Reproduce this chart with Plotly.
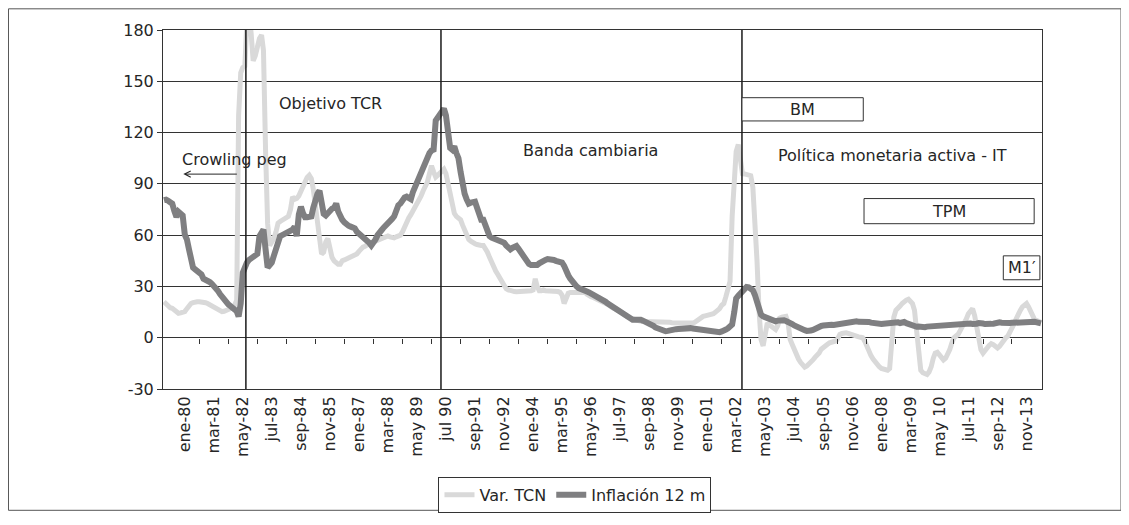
"""Var. TCN e inflación 12 m, regímenes cambiarios y monetarios."""

import pandas as pd
import plotly.graph_objects as go

# Monthly data, mar-1979 .. jun-2014
months = pd.date_range("1979-03-01", periods=424, freq="MS")

var_tcn = [
    21.0, 19.5, 18.0, 17.5, 17.2, 16.0, 15.0, 14.3, 14.5, 15.0,  # 1979 (mar-dic)
    15.3, 17.0, 19.2, 20.0, 20.5, 21.0, 21.0, 21.0, 21.0, 21.0, 20.5, 20.0,  # 1980
    19.2, 18.5, 18.0, 17.2, 16.5, 16.0, 15.3, 15.5, 16.3, 16.5, 17.0, 17.2,  # 1981
    19.0, 22.0, 130.0, 155.0, 158.0, 159.0, 185.0, 190.0, 178.0, 162.0, 165.0, 170.0,  # 1982
    175.0, 177.0, 168.0, 109.0, 66.7, 54.0, 56.0, 58.0, 62.0, 67.0, 68.0, 68.9,  # 1983
    69.5, 70.0, 71.0, 75.0, 82.4, 81.0, 81.5, 83.0, 86.2, 89.0, 92.0, 93.8,  # 1984
    95.0, 93.0, 87.0, 78.0, 68.0, 58.0, 49.0, 50.0, 56.0, 58.0, 52.0, 47.0,  # 1985
    45.0, 44.0, 43.0, 43.0, 45.0, 45.5, 46.0, 46.5, 47.0, 47.5, 48.0, 49.0,  # 1986
    50.5, 52.0, 53.0, 53.5, 54.5, 55.0, 55.5, 56.0, 56.5, 57.0, 58.0, 58.5,  # 1987
    59.0, 59.5, 59.5, 59.0, 58.5, 58.4, 59.0, 59.5, 60.0, 62.0, 65.0, 68.0,  # 1988
    70.0, 72.0, 74.0, 76.0, 78.5, 80.0, 83.0, 86.0, 89.0, 91.0, 96.0, 100.6,  # 1989
    97.0, 94.0, 95.0, 96.5, 97.5, 98.6, 96.0, 90.0, 84.0, 78.0, 72.8, 71.0,  # 1990
    70.0, 69.0, 66.0, 62.5, 59.0, 57.5, 56.5, 55.5, 55.0, 54.5, 54.0, 54.0,  # 1991
    54.0, 52.5, 50.0, 47.0, 44.0, 41.5, 39.0, 37.0, 34.5, 32.5, 30.5, 28.7,  # 1992
    28.0, 27.5, 27.0, 27.0, 26.9, 27.0, 27.2, 27.0, 26.8, 27.0, 27.0, 27.5,  # 1993
    28.0, 34.5, 30.0, 27.5, 27.5, 28.0, 27.5, 27.5, 27.2, 27.5, 27.0, 27.3,  # 1994
    27.0, 26.5, 25.0, 20.0, 24.0, 26.0, 26.5, 26.5, 27.0, 27.0, 27.2, 27.0,  # 1995
    27.0, 26.5, 25.5, 24.5, 24.0, 23.5, 23.0, 22.5, 22.0, 21.5, 21.0, 20.0,  # 1996
    19.5, 18.5, 17.5, 17.0, 16.5, 16.0, 15.3, 14.5, 13.5, 12.5, 12.0, 11.5,  # 1997
    11.0, 10.5, 10.0, 10.0, 9.6, 9.5, 9.5, 9.6, 9.5, 9.4, 9.5, 9.6,  # 1998
    9.5, 9.4, 9.5, 9.6, 9.5, 9.3, 9.0, 8.8, 8.6, 8.6, 8.7, 8.6,  # 1999
    8.6, 8.5, 8.6, 8.6, 8.7, 8.6, 9.0, 10.0, 11.0, 12.4, 12.5, 12.8,  # 2000
    13.0, 13.2, 13.4, 14.0, 15.0, 16.0, 17.0, 19.0, 20.0, 24.0, 28.0, 33.0,  # 2001
    71.0, 95.0, 109.0, 113.0, 106.0, 96.0, 95.8, 95.5, 95.0, 94.8, 88.0, 70.0,  # 2002
    45.0, 15.0, -1.0, -4.8, 3.0, 8.6, 7.5, 6.7, 5.5, 4.8, 7.0, 11.5,  # 2003
    12.0, 12.3, 12.5, 9.0, -1.0, -4.0, -7.0, -10.5, -12.5, -14.4, -16.0, -17.2,  # 2004
    -16.5, -15.5, -14.4, -13.0, -11.5, -10.5, -9.0, -6.7, -5.5, -4.5, -3.8, -3.0,  # 2005
    -2.5, -2.0, -1.9, -0.5, 1.9, 2.5, 2.8, 2.9, 2.5, 2.0, 1.5, 1.0,  # 2006
    0.8, 0.5, 0.3, 0.0, -2.0, -5.0, -8.6, -10.5, -12.5, -14.4, -15.5, -17.0,  # 2007
    -18.0, -18.5, -19.0, -19.0, -18.0, -5.0, 12.0, 16.0, 17.0, 18.5, 20.0, 21.5,  # 2008
    22.0, 22.5, 21.5, 20.0, 16.0, 2.0, -12.0, -19.0, -20.5, -21.0, -21.5, -20.0,  # 2009
    -17.0, -12.0, -9.0, -8.5, -10.0, -12.0, -13.0, -12.0, -10.0, -7.0, -3.0, 0.0,  # 2010
    1.0, 2.0, 4.0, 6.0, 8.0, 11.0, 14.0, 16.0, 17.0, 13.0, 5.0, -2.0,  # 2011
    -7.0, -9.0, -8.0, -6.0, -4.5, -3.5, -4.0, -5.0, -6.0, -5.0, -3.0, -1.0,  # 2012
    0.0, 1.0, 3.0, 5.0, 8.0, 11.0, 14.0, 16.0, 18.0, 19.5, 20.0, 18.0,  # 2013
    15.0, 12.0, 10.5, 10.0, 9.5, 9.0,  # 2014 (ene-jun)
]

inflacion_12m = [
    80.5, 80.8, 80.1, 79.2, 78.4, 74.1, 70.6, 73.6, 72.9, 71.5,  # 1979 (mar-dic)
    60.3, 57.5, 52.0, 44.0, 41.0, 40.0, 39.0, 38.3, 37.0, 34.5, 34.0, 33.0,  # 1980
    32.6, 31.5, 30.5, 29.5, 27.5, 25.5, 23.5, 22.0, 21.0, 19.5, 18.5, 17.5,  # 1981
    17.0, 15.5, 12.4, 20.0, 38.0, 42.0, 44.0, 45.5, 46.5, 47.5, 48.5, 49.0,  # 1982
    59.4, 61.0, 63.2, 51.7, 41.1, 42.5, 44.0, 48.0, 51.7, 57.0, 59.4, 60.0,  # 1983
    60.5, 61.3, 62.0, 62.5, 63.2, 65.0, 59.4, 72.0, 76.6, 72.8, 70.5, 70.5,  # 1984
    70.5, 71.0, 76.0, 82.0, 84.0, 86.0, 81.0, 72.5, 71.5, 73.0, 74.0, 75.5,  # 1985
    76.0, 78.5, 74.0, 70.0, 69.0, 67.5, 66.0, 65.5, 65.0, 64.5, 64.0, 62.0,  # 1986
    61.0, 60.0, 58.5, 57.5, 56.5, 55.5, 54.0, 55.5, 57.5, 60.0, 61.0, 63.0,  # 1987
    64.5, 65.5, 67.0, 68.0, 69.5, 71.0, 75.0, 77.5, 78.5, 80.5, 82.0, 82.5,  # 1988
    81.5, 81.0, 85.0, 88.0, 91.0, 94.5, 98.0, 101.0, 104.0, 106.5, 108.0, 109.5,  # 1989
    110.0, 127.0, 129.0, 130.0, 132.0, 134.0, 130.0, 122.6, 111.0, 110.0, 112.0, 108.0,  # 1990
    105.0, 97.0, 90.0, 84.3, 81.0, 78.5, 79.0, 79.5, 79.5, 76.0, 72.5, 69.0,  # 1991
    69.0, 65.0, 62.0, 59.4, 58.5, 58.0, 57.5, 57.0, 56.5, 56.0, 55.6, 54.0,  # 1992
    53.0, 51.7, 52.5, 53.5, 53.6, 52.0, 50.0, 47.9, 46.0, 44.5, 43.1, 42.5,  # 1993
    42.5, 42.1, 42.5, 43.5, 44.5, 45.0, 45.5, 46.0, 46.0, 45.5, 45.5, 45.0,  # 1994
    44.5, 44.1, 44.0, 42.0, 38.3, 36.5, 34.5, 32.6, 31.0, 30.0, 29.0, 28.7,  # 1995
    28.0, 27.5, 27.0, 26.5, 25.9, 25.0, 24.5, 24.0, 23.5, 23.0, 22.0, 21.0,  # 1996
    20.0, 19.2, 18.5, 17.7, 17.0, 16.0, 15.3, 14.5, 13.5, 12.5, 11.5, 10.5,  # 1997
    10.5, 10.5, 10.7, 10.5, 10.5, 10.0, 9.5, 8.8, 8.0, 7.7, 7.0, 6.0,  # 1998
    5.5, 4.8, 4.3, 4.0, 3.8, 4.0, 4.4, 4.6, 4.8, 5.0, 5.1, 5.3,  # 1999
    5.4, 5.5, 5.7, 5.7, 5.6, 5.4, 5.2, 5.0, 4.9, 4.8, 4.8, 4.5,  # 2000
    4.3, 4.0, 3.6, 3.2, 3.0, 2.9, 3.2, 3.7, 4.0, 4.8, 5.5, 6.5,  # 2001
    7.7, 15.0, 23.0, 24.5, 26.0, 27.5, 29.0, 29.7, 29.5, 28.5, 27.8, 25.0,  # 2002
    20.0, 16.0, 13.5, 12.5, 12.0, 11.5, 11.5, 11.0, 10.5, 9.6, 10.0, 10.3,  # 2003
    10.5, 10.2, 9.8, 9.4, 8.6, 8.0, 7.2, 6.5, 5.7, 5.2, 4.8, 4.4,  # 2004
    4.0, 3.8, 4.2, 4.6, 5.3, 6.0, 6.7, 6.9, 7.1, 7.4, 7.5, 7.7,  # 2005
    7.6, 7.5, 7.7, 7.6, 7.7, 8.0, 8.5, 8.6, 8.9, 9.3, 9.6, 9.5,  # 2006
    9.6, 9.3, 9.4, 9.6, 9.7, 9.4, 9.2, 8.8, 8.5, 8.3, 8.4, 8.2,  # 2007
    8.0, 8.2, 8.4, 8.2, 8.0, 8.2, 8.6, 8.8, 9.0, 8.6, 8.9, 9.2,  # 2008
    8.5, 8.0, 7.6, 7.2, 6.8, 6.4, 6.6, 6.3, 6.0, 6.2, 6.5, 6.6,  # 2009
    6.8, 7.0, 7.1, 6.9, 7.0, 7.2, 7.4, 7.0, 7.2, 7.4, 7.5, 7.6,  # 2010
    7.8, 8.0, 8.3, 8.2, 8.4, 8.5, 8.6, 8.3, 8.0, 7.9, 8.2, 8.6,  # 2011
    8.7, 8.3, 8.0, 7.8, 7.9, 8.1, 8.2, 8.6, 8.8, 9.0, 8.8, 8.6,  # 2012
    8.5, 8.4, 8.6, 8.7, 8.8, 8.9, 9.0, 8.9, 9.0, 9.1, 9.2, 9.3,  # 2013
    9.4, 9.5, 9.3, 9.0, 8.8, 8.4,  # 2014 (ene-jun)
]

tick_labels = [
    "ene-80", "mar-81", "may-82", "jul-83", "sep-84", "nov-85", "ene-87",
    "mar-88", "may 89", "jul 90", "sep-91", "nov-92", "ene-94", "mar-95",
    "may-96", "jul-97", "sep-98", "nov-99", "ene-01", "mar-02", "may-03",
    "jul-04", "sep-05", "nov-06", "ene-08", "mar-09", "may 10", "jul-11",
    "sep-12", "nov-13",
]
tick_dates = pd.date_range("1980-01-01", periods=len(tick_labels), freq="14MS")
tick_marks = pd.date_range("1980-08-01", periods=29, freq="14MS")

y_ticks = [-30, 0, 30, 60, 90, 120, 150, 180]
y_tick_text = ["-30", "0", "30", "60", "90", "120", "150", "180"]

# regime breaks
breaks = ["1982-06-16", "1990-04-19", "2002-05-25"]

x_range = ["1979-02-15", "2014-06-16"]
FONT = "DejaVu Sans, Verdana, sans-serif"
INK = "#262626"
GRID = "#333333"
FS = 16

fig = go.Figure()
fig.add_trace(
    go.Scatter(
        x=months, y=var_tcn, name="Var. TCN", mode="lines",
        line=dict(color="#d9d9d9", width=5),
    )
)
fig.add_trace(
    go.Scatter(
        x=months, y=inflacion_12m, name="Inflación 12 m", mode="lines",
        line=dict(color="#7f7f81", width=6),
    )
)
# empty trace so the tick-mark axis at y=0 gets drawn
fig.add_trace(
    go.Scatter(x=[], y=[], xaxis="x2", showlegend=False, hoverinfo="skip")
)

for b in breaks:
    fig.add_shape(
        type="line", xref="x", yref="paper", x0=b, x1=b, y0=0, y1=1,
        line=dict(color="#1a1a1a", width=1.5), layer="above",
    )

# boxes BM / TPM / M1'
boxes = [
    ("2002-05-25", "2007-04-10", 126.8, 140.4),
    ("2007-04-21", "2014-02-21", 66.7, 81.4),
    ("2012-11-25", "2014-05-16", 33.9, 47.9),
]
for x0, x1, y0, y1 in boxes:
    fig.add_shape(
        type="rect", xref="x", yref="y", x0=x0, x1=x1, y0=y0, y1=y1,
        line=dict(color="#333333", width=1), fillcolor="white", layer="above",
    )

notes = [
    ("1985-11-10", 137.0, "Objetivo TCR"),
    ("1982-01-01", 104.0, "Crowling peg"),
    ("1996-04-21", 109.8, "Banda cambiaria"),
    ("2004-11-01", 133.6, "BM"),
    ("2008-06-19", 106.4, "Política monetaria activa - IT"),
    ("2010-09-19", 74.0, "TPM"),
    ("2013-08-22", 40.9, "M1\u2032"),
]
for x, y, t in notes:
    fig.add_annotation(
        x=x, y=y, text=t, showarrow=False, xanchor="center", yanchor="middle",
        font=dict(family=FONT, size=FS, color=INK),
    )

# crawling peg arrow pointing back in time
fig.add_annotation(
    x="1979-12-10", y=95.7, ax="1982-02-25", ay=95.7, axref="x", ayref="y",
    text="", showarrow=True, arrowhead=5, arrowsize=1.2, arrowwidth=1,
    arrowcolor=INK,
)

# outer frame of the chart
fig.add_shape(
    type="rect", xref="paper", yref="paper",
    x0=-0.1758, x1=1.0899, y0=-0.3379, y1=1.0590,
    line=dict(color="#555555", width=1),
)

fig.update_layout(
    width=1121,
    height=517,
    margin=dict(l=155, r=87, t=22, b=131),
    paper_bgcolor="white",
    plot_bgcolor="white",
    font=dict(family=FONT, size=FS, color=INK),
    showlegend=True,
    legend=dict(
        orientation="h", x=0.4687, xanchor="center", y=-0.245, yanchor="top",
        bordercolor="#333333", borderwidth=1, font=dict(size=FS),
        traceorder="normal",
    ),
    xaxis=dict(
        type="date", range=x_range, tickmode="array",
        tickvals=tick_dates, ticktext=tick_labels, tickangle=-90,
        ticks="", showgrid=False, zeroline=False,
        showline=True, mirror=True, linecolor=GRID, linewidth=1,
        tickfont=dict(size=FS, color=INK),
    ),
    xaxis2=dict(
        type="date", range=x_range, overlaying="x", anchor="free",
        position=30 / 210, tickmode="array", tickvals=tick_marks,
        ticks="outside", ticklen=5, tickcolor=GRID, tickwidth=1,
        showticklabels=False, showgrid=False, showline=False, zeroline=False,
    ),
    yaxis=dict(
        range=[-30, 180], tickmode="array", tickvals=y_ticks,
        ticktext=y_tick_text, showgrid=True, gridcolor=GRID,
        gridwidth=1, zeroline=False, showline=True, mirror=True,
        linecolor=GRID, linewidth=1, ticks="outside", ticklen=5,
        tickcolor=GRID, tickfont=dict(size=FS, color=INK),
    ),
)

fig.write_html("out.html")
